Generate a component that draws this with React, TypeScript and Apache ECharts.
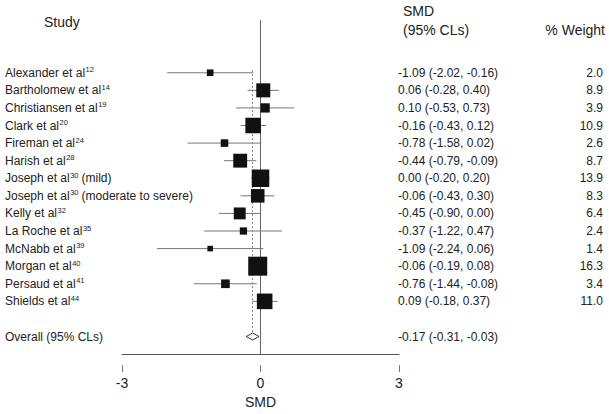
import React, { useEffect, useRef } from "react";
import * as echarts from "echarts";

const studies = [
  "Alexander et al", "Bartholomew et al", "Christiansen et al", "Clark et al", "Fireman et al",
  "Harish et al", "Joseph et al", "Joseph et al", "Kelly et al", "La Roche et al",
  "McNabb et al", "Morgan et al", "Persaud et al", "Shields et al",
];
const refs = ["12", "14", "19", "20", "24", "28", "30", "30", "32", "35", "39", "40", "41", "44"];
const suffixes = ["", "", "", "", "", "", "(mild)", "(moderate to severe)", "", "", "", "", "", ""];
const smd = [-1.09, 0.06, 0.10, -0.16, -0.78, -0.44, 0.00, -0.06, -0.45, -0.37, -1.09, -0.06, -0.76, 0.09];
const lower = [-2.02, -0.28, -0.53, -0.43, -1.58, -0.79, -0.20, -0.43, -0.90, -1.22, -2.24, -0.19, -1.44, -0.18];
const upper = [-0.16, 0.40, 0.73, 0.12, 0.02, -0.09, 0.20, 0.30, 0.00, 0.47, 0.06, 0.08, -0.08, 0.37];
const weights = [2.0, 8.9, 3.9, 10.9, 2.6, 8.7, 13.9, 8.3, 6.4, 2.4, 1.4, 16.3, 3.4, 11.0];
const overallLabel = "Overall (95% CLs)";
const overallSmd = -0.17;
const overallLower = -0.31;
const overallUpper = -0.03;
const xTicks = [-3, 0, 3];

const FONT = "'Liberation Sans', Arial, sans-serif";
const overallRow = studies.length + 1;

function fmt(v: number) {
  return v.toFixed(2);
}

export default function App() {
  const ref = useRef<HTMLDivElement>(null);
  useEffect(() => {
    if (!ref.current) return;
    const chart = echarts.init(ref.current, undefined, { renderer: "svg" });
    const rows = studies.map((_, i) => i);

    const leftLabel = (v: number) => {
      const i = Math.round(v);
      if (Math.abs(v - i) > 1e-6) return "";
      if (i >= 0 && i < studies.length) {
        let s = `{n|${studies[i]}}{s|${refs[i]}}`;
        if (suffixes[i]) s += `{g|}{n|${suffixes[i]}}`;
        return s;
      }
      if (i === overallRow) return `{n|${overallLabel}}`;
      return "";
    };

    const tableRows = rows.map((i) => [
      i,
      `${fmt(smd[i])} (${fmt(lower[i])}, ${fmt(upper[i])})`,
      weights[i].toFixed(1),
    ]);
    tableRows.push([overallRow, `${fmt(overallSmd)} (${fmt(overallLower)}, ${fmt(overallUpper)})`, ""]);

    const option: any = {
      animation: false,
      backgroundColor: "#ffffff",
      textStyle: { fontFamily: FONT },
      grid: { left: 122, right: 210, top: 20, height: 342 },
      graphic: [
        { type: "text", left: 44, top: 15, style: { text: "Study", font: `14px ${FONT}`, fill: "#222" } },
        { type: "text", left: 403, top: 4, style: { text: "SMD", font: `14px ${FONT}`, fill: "#222" } },
        { type: "text", left: 403, top: 23, style: { text: "(95% CLs)", font: `14px ${FONT}`, fill: "#222" } },
        { type: "text", right: 4, top: 23, style: { text: "% Weight", font: `14px ${FONT}`, fill: "#222" } },
      ],
      xAxis: [
        {
          type: "value", min: -3, max: 3, interval: 3, position: "bottom",
          axisLine: { show: true, onZero: false, lineStyle: { color: "#555", width: 1 } },
          axisTick: { show: false }, axisLabel: { show: false }, splitLine: { show: false },
        },
        {
          type: "value", min: -3, max: 3, interval: 3, position: "bottom", offset: 11,
          axisLine: { show: false, onZero: false },
          axisTick: { show: true, length: 7, lineStyle: { color: "#777" } },
          axisLabel: {
            show: true, margin: 11, fontSize: 14, color: "#222", fontFamily: FONT,
            formatter: (v: number) => (xTicks.includes(v) ? String(v) : ""),
          },
          splitLine: { show: false },
          name: "SMD", nameLocation: "middle", nameGap: 28,
          nameTextStyle: { fontSize: 14, color: "#222", fontFamily: FONT },
        },
      ],
      yAxis: [
        {
          type: "value", inverse: true, min: -3, max: 16, interval: 1, position: "left",
          axisLine: { show: false }, axisTick: { show: false }, splitLine: { show: false },
          axisLabel: {
            show: true, align: "left", margin: 117, formatter: leftLabel,
            rich: {
              n: { fontSize: 12, color: "#222", fontFamily: FONT, lineHeight: 14 },
              s: { fontSize: 7.5, color: "#222", fontFamily: FONT, lineHeight: 14, verticalAlign: "top", padding: [0, 0, 0, 0.5] },
              g: { width: 3 },
            },
          },
        },
      ],
      series: [
        {
          type: "custom",
          name: "zero",
          xAxisIndex: 0, yAxisIndex: 0,
          data: [],
          renderItem: () => null,
          z: 1,
          markLine: {
            silent: true, symbol: "none", label: { show: false }, z: 1,
            lineStyle: { color: "#666", width: 1, type: "solid" },
            data: [{ xAxis: 0 }],
          },
        },
        {
          type: "custom",
          name: "ci",
          xAxisIndex: 0, yAxisIndex: 0,
          data: rows.map((i) => [lower[i], upper[i], i]),
          renderItem: (params: any, api: any) => {
            const a = api.coord([api.value(0), api.value(2)]);
            const b = api.coord([api.value(1), api.value(2)]);
            return {
              type: "line",
              shape: { x1: a[0], y1: a[1], x2: b[0], y2: b[1] },
              style: { stroke: "#777", lineWidth: 1 },
            };
          },
          z: 2,
        },
        {
          type: "custom",
          name: "overall",
          xAxisIndex: 0, yAxisIndex: 0,
          data: [[overallLower, overallSmd, overallUpper, overallRow]],
          renderItem: (params: any, api: any) => {
            const row = api.value(3);
            const l = api.coord([api.value(0), row]);
            const m = api.coord([api.value(1), row]);
            const r = api.coord([api.value(2), row]);
            const h = 3.5;
            return {
              type: "polygon",
              shape: { points: [[l[0], l[1]], [m[0], m[1] - h], [r[0], r[1]], [m[0], m[1] + h]] },
              style: { fill: "#fff", stroke: "#333", lineWidth: 1 },
            };
          },
          z: 4,
          markLine: {
            silent: true, symbol: "none", label: { show: false },
            lineStyle: { color: "#888", width: 1, type: [2, 2] },
            data: [[{ coord: [overallSmd, -0.15] }, { coord: [overallSmd, overallRow - 0.2] }]],
          },
        },
        {
          type: "scatter",
          name: "smd",
          xAxisIndex: 0, yAxisIndex: 0,
          symbol: "rect",
          data: rows.map((i) => [smd[i], i, weights[i]]),
          symbolSize: (val: number[]) => 4.7 * Math.sqrt(val[2]),
          itemStyle: { color: "#111", opacity: 1 },
          z: 10,
        },
        {
          type: "custom",
          name: "table",
          xAxisIndex: 0, yAxisIndex: 0,
          clip: false,
          data: tableRows,
          renderItem: (params: any, api: any) => {
            const d = tableRows[params.dataIndex];
            const y = api.coord([0, d[0] as number])[1];
            const cs = params.coordSys;
            const x0 = cs.x + cs.width - 1;
            return {
              type: "group",
              children: [
                {
                  type: "text",
                  x: x0, y,
                  style: { text: d[1], font: `12px ${FONT}`, fill: "#222", textAlign: "left", textVerticalAlign: "middle" },
                },
                {
                  type: "text",
                  x: 603, y,
                  style: { text: d[2], font: `12px ${FONT}`, fill: "#222", textAlign: "right", textVerticalAlign: "middle" },
                },
              ],
            };
          },
          z: 5,
        },
      ],
    };
    chart.setOption(option);
    return () => chart.dispose();
  }, []);
  return (
    <div
      ref={ref}
      style={{ position: "fixed", left: 0, top: 0, width: 609, height: 414, background: "#fff" }}
    />
  );
}
